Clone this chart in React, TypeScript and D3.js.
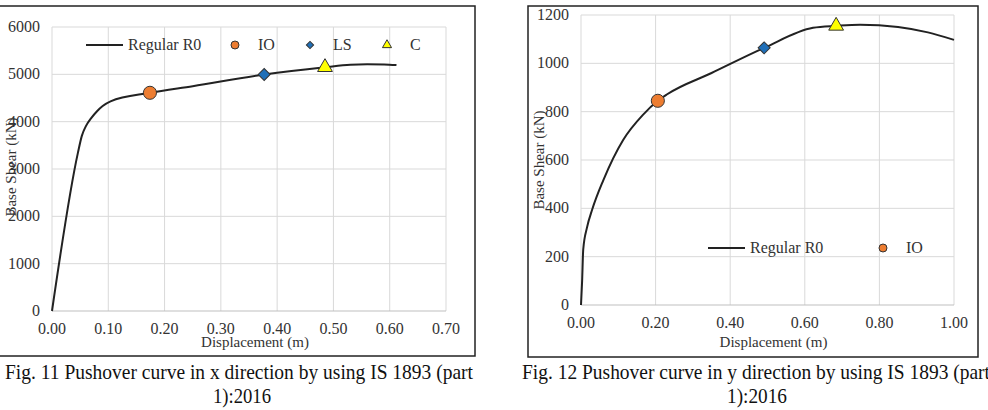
import * as d3 from "d3";

// pushover curve, x direction (displacement m, base shear kN)
const dispX = [0, 0.046, 0.053, 0.06, 0.07, 0.08, 0.09, 0.104, 0.174, 0.25, 0.377, 0.485, 0.53, 0.56, 0.59, 0.612];
const shearX = [0, 3340, 3700, 3900, 4080, 4220, 4330, 4430, 4610, 4750, 4995, 5150, 5205, 5215, 5210, 5195];

// pushover curve, y direction
const dispY = [0, 0.003, 0.006, 0.016, 0.03, 0.06, 0.113, 0.166, 0.206, 0.231, 0.35, 0.491, 0.622, 0.684, 0.748, 0.85, 0.93, 1.0];
const shearY = [0, 100, 230, 320, 395, 517, 683, 787, 845, 872, 960, 1064, 1147, 1155, 1160, 1150, 1128, 1097];

// performance levels
const stages = ["IO", "LS", "C"];
const stageDispX = [0.174, 0.377, 0.485];
const stageShearX = [4610, 4995, 5150];
const stageDispY = [0.206, 0.491, 0.684];
const stageShearY = [845, 1064, 1155];

const xTicksX = [0, 0.1, 0.2, 0.3, 0.4, 0.5, 0.6, 0.7];
const yTicksX = [0, 1000, 2000, 3000, 4000, 5000, 6000];
const xTicksY = [0, 0.2, 0.4, 0.6, 0.8, 1.0];
const yTicksY = [0, 200, 400, 600, 800, 1000, 1200];

const seriesName = "Regular R0";
const xTitle = "Displacement (m)";
const yTitle = "Base Shear (kN)";
const captionX = ["Fig. 11 Pushover curve in x direction by using IS 1893 (part", "1):2016"];
const captionY = ["Fig. 12 Pushover curve in y direction by using IS 1893 (part", "1):2016"];

const FONT = "'Liberation Serif', serif";
const markerStyle: Record<string, { type: d3.SymbolType; fill: string; rot: number; big: number; small: number }> = {
  IO: { type: d3.symbolCircle, fill: "#ED7D31", rot: 0, big: 135, small: 50 },
  LS: { type: d3.symbolSquare, fill: "#1F6FB8", rot: 45, big: 72, small: 26 },
  C: { type: d3.symbolTriangle, fill: "#FFFF00", rot: 0, big: 95, small: 36 },
};

type PanelProps = {
  box: [number, number, number, number];
  plot: [number, number, number, number];
  xDomain: [number, number];
  yDomain: [number, number];
  xTicks: number[];
  yTicks: number[];
  xs: number[];
  ys: number[];
  sx: number[];
  sy: number[];
  legend: { x: number; y: number; items: { key: string; x: number }[] };
  yTitleX: number;
  yTitleY: number;
  tickY: number;
  caption: string[];
  captionX: number;
  caption2X: number;
  caption2W: number;
};

function Panel(p: PanelProps) {
  const [bx0, by0, bx1, by1] = p.box;
  const [px0, py0, px1, py1] = p.plot;
  const x = d3.scaleLinear().domain(p.xDomain).range([px0, px1]);
  const y = d3.scaleLinear().domain(p.yDomain).range([py1, py0]);
  const pts = p.xs.map((d, i) => [d, p.ys[i]] as [number, number]);
  const line = d3
    .line<[number, number]>()
    .x((d) => x(d[0]))
    .y((d) => y(d[1]))
    .curve(d3.curveMonotoneX);
  const sym = (k: string, big: boolean) =>
    d3.symbol().type(markerStyle[k].type).size(big ? markerStyle[k].big : markerStyle[k].small)()!;
  const xFmt = d3.format(".2f");

  return (
    <g fontFamily={FONT}>
      <rect x={bx0} y={by0} width={bx1 - bx0} height={by1 - by0} fill="white" stroke="#222" strokeWidth={1.5} />
      {p.xTicks.map((t) => (
        <line key={"gx" + t} x1={x(t)} x2={x(t)} y1={py0} y2={py1} stroke="#d9d9d9" />
      ))}
      {p.yTicks.map((t) => (
        <line key={"gy" + t} x1={px0} x2={px1} y1={y(t)} y2={y(t)} stroke={t === 0 ? "#bfbfbf" : "#d9d9d9"} />
      ))}
      {p.yTicks.map((t) => (
        <text key={"ty" + t} x={px0 - 12} y={y(t) + 5} textAnchor="end" fontSize={16} fill="#333">
          {t}
        </text>
      ))}
      {p.xTicks.map((t) => (
        <text key={"tx" + t} x={x(t)} y={p.tickY} textAnchor="middle" fontSize={16} fill="#333">
          {xFmt(t)}
        </text>
      ))}
      <text x={(px0 + px1) / 2 + 6} y={347} textAnchor="middle" fontSize={15} fill="#333">
        {xTitle}
      </text>
      <text
        transform={`translate(${p.yTitleX},${p.yTitleY}) rotate(-90)`}
        textAnchor="middle"
        fontSize={15}
        fill="#333"
      >
        {yTitle}
      </text>
      <path d={line(pts)!} fill="none" stroke="#222" strokeWidth={2} />
      {stages.map((k, i) => (
        <path
          key={k}
          d={sym(k, true)}
          transform={`translate(${x(p.sx[i])},${y(p.sy[i])}) rotate(${markerStyle[k].rot})`}
          fill={markerStyle[k].fill}
          stroke="#333"
          strokeWidth={1}
        />
      ))}
      <g transform={`translate(${p.legend.x},${p.legend.y})`}>
        <line x1={0} x2={37} y1={0} y2={0} stroke="#222" strokeWidth={2} />
        <text x={42} y={5} fontSize={16} fill="#333">
          {seriesName}
        </text>
        {p.legend.items.map((it) => (
          <g key={it.key}>
            <path
              d={sym(it.key, false)}
              transform={`translate(${it.x},0) rotate(${markerStyle[it.key].rot})`}
              fill={markerStyle[it.key].fill}
              stroke="#333"
              strokeWidth={1}
            />
            <text x={it.x + 23} y={5} fontSize={16} fill="#333">
              {it.key}
            </text>
          </g>
        ))}
      </g>
      <text x={p.captionX} y={379} fontSize={21} textLength={468} lengthAdjust="spacingAndGlyphs" fill="#111">
        {p.caption[0]}
      </text>
      <text
        x={p.caption2X - p.caption2W / 2}
        y={403}
        fontSize={21}
        textLength={p.caption2W}
        lengthAdjust="spacingAndGlyphs"
        fill="#111"
      >
        {p.caption[1]}
      </text>
    </g>
  );
}

export default function App() {
  return (
    <svg width={988} height={410} style={{ position: "absolute", left: 0, top: 0, background: "white" }}>
      <Panel
        box={[-2, 6, 475, 356]}
        plot={[52, 27, 446, 311]}
        xDomain={[0, 0.7]}
        yDomain={[0, 6000]}
        xTicks={xTicksX}
        yTicks={yTicksX}
        xs={dispX}
        ys={shearX}
        sx={stageDispX}
        sy={stageShearX}
        legend={{ x: 86, y: 45, items: [{ key: "IO", x: 149 }, { key: "LS", x: 224 }, { key: "C", x: 301 }] }}
        yTitleX={16}
        yTitleY={167}
        tickY={334}
        caption={captionX}
        captionX={5}
        caption2X={242}
        caption2W={58}
      />
      <Panel
        box={[528, 6, 978, 357]}
        plot={[581, 15, 954, 305]}
        xDomain={[0, 1]}
        yDomain={[0, 1200]}
        xTicks={xTicksY}
        yTicks={yTicksY}
        xs={dispY}
        ys={shearY}
        sx={stageDispY}
        sy={stageShearY}
        legend={{ x: 708, y: 248, items: [{ key: "IO", x: 175 }] }}
        yTitleX={544}
        yTitleY={160}
        tickY={328}
        caption={captionY}
        captionX={522}
        caption2X={757}
        caption2W={60}
      />
    </svg>
  );
}
